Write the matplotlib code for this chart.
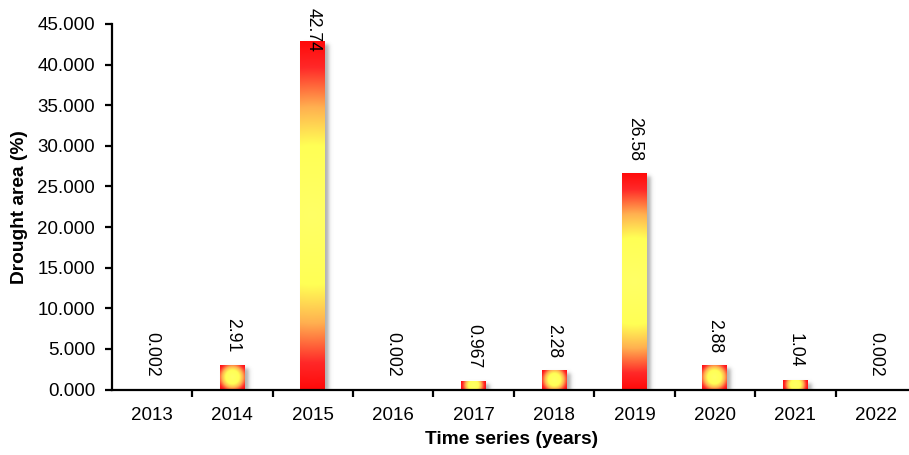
import numpy as np
import matplotlib
matplotlib.use("Agg")
import matplotlib.pyplot as plt
from matplotlib.colors import LinearSegmentedColormap

plt.rcParams['font.family'] = ['Liberation Sans', 'DejaVu Sans']

years = ['2013', '2014', '2015', '2016', '2017', '2018', '2019', '2020', '2021', '2022']
drought_area = [0.002, 2.91, 42.74, 0.002, 0.967, 2.28, 26.58, 2.88, 1.04, 0.002]

W, H, DPI = 909, 455, 100
fig = plt.figure(figsize=(W / DPI, H / DPI), dpi=DPI)
left, right, bottom, top = 111.7, 916.0, 389.5, 24.0
ax = fig.add_axes([left / W, 1 - bottom / H, (right - left) / W, (bottom - top) / H])

n = len(years)
ymax = 45
ax.set_xlim(-0.5, n - 0.5)
ax.set_ylim(0, ymax)

# pixels per data unit, used to shape the gradients
px_x = (right - left) / n
px_y = (bottom - top) / ymax
bar_w = 0.31

# centre-out fill: yellow core fading to red at the corners
fill = LinearSegmentedColormap.from_list('fill', [
    (0.0, '#FFFF66'), (0.40, '#FFFF55'), (0.62, '#FFB050'),
    (0.85, '#FF2828'), (1.0, '#FF0A0A')])


def soft_box(x, a, b, k):
    return 0.5 * (np.tanh((x - a) / k) - np.tanh((x - b) / k))


for i, v in enumerate(drought_area):
    wp = bar_w * px_x
    hp = v * px_y
    if hp < 1:
        continue

    # soft drop shadow, offset right and down
    sx, sy, m = 4.0, 3.0, 8.0
    gx = np.linspace(-m, wp + sx + m, int(wp + sx + 2 * m) * 2)
    gy = np.linspace(-sy - m, hp + m, int(hp + sy + 2 * m) * 2)
    X, Y = np.meshgrid(gx, gy)
    alpha = 0.55 * soft_box(X, sx, wp + sx, 2.2) * soft_box(Y, -sy, hp - sy, 2.2)
    shadow = np.zeros(X.shape + (4,))
    shadow[..., :3] = 0.45
    shadow[..., 3] = alpha
    x0 = i - bar_w / 2
    ax.imshow(shadow, origin='lower', aspect='auto', interpolation='bilinear',
              extent=(x0 + gx[0] / px_x, x0 + gx[-1] / px_x,
                      gy[0] / px_y, gy[-1] / px_y), zorder=1)

    # bar body
    nx = max(int(wp * 2), 2)
    ny = max(int(hp * 2), 2)
    bx = np.linspace(-wp / 2, wp / 2, nx)
    by = np.linspace(-hp / 2, hp / 2, ny)
    BX, BY = np.meshgrid(bx, by)
    t = np.sqrt(BX ** 2 + BY ** 2) / np.hypot(wp / 2, hp / 2)
    ax.imshow(fill(t), origin='lower', aspect='auto', interpolation='bilinear',
              extent=(i - bar_w / 2, i + bar_w / 2, 0, v), zorder=2)

# value labels, written top to bottom above each bar
for i, v in enumerate(drought_area):
    txt = f"{v:g}"
    if v * px_y + 13 + 45 > bottom - 8:
        ax.annotate(txt, (i, ymax), xytext=(0, 11.5), textcoords='offset points',
                    rotation=270, ha='center', va='top', fontsize=12.7,
                    annotation_clip=False, zorder=5)
    else:
        ax.annotate(txt, (i, v), xytext=(0, 9.4), textcoords='offset points',
                    rotation=270, ha='center', va='bottom', fontsize=12.7, zorder=5)

ax.spines['top'].set_visible(False)
ax.spines['right'].set_visible(False)
for s in ('left', 'bottom'):
    ax.spines[s].set_linewidth(1.6)
    ax.spines[s].set_zorder(6)

ax.set_yticks(np.arange(0, ymax + 1, 5))
ax.set_yticklabels([f"{t:.3f}" for t in np.arange(0, ymax + 1, 5)])
ax.tick_params(axis='y', direction='out', length=5, width=1.6, labelsize=13.5, pad=7)

# category boundaries get the tick marks, centres get the labels
ax.set_xticks(np.arange(0.5, n - 0.5 + 1, 1))
ax.set_xticklabels([])
ax.set_xticks(np.arange(n), minor=True)
ax.set_xticklabels(years, minor=True)
ax.tick_params(axis='x', which='major', direction='out', length=5, width=1.6)
ax.tick_params(axis='x', which='minor', length=0, labelsize=13.5, pad=12.5)

ax.set_ylabel('Drought area (%)', fontsize=13.8, fontweight='bold')
ax.set_xlabel('Time series (years)', fontsize=13.8, fontweight='bold')
ax.yaxis.set_label_coords(-(left - 28) / (right - left), 0.5)
ax.xaxis.set_label_coords((512 - left) / (right - left), -(431 - bottom) / (bottom - top))

fig.savefig('out.png', dpi=DPI)
